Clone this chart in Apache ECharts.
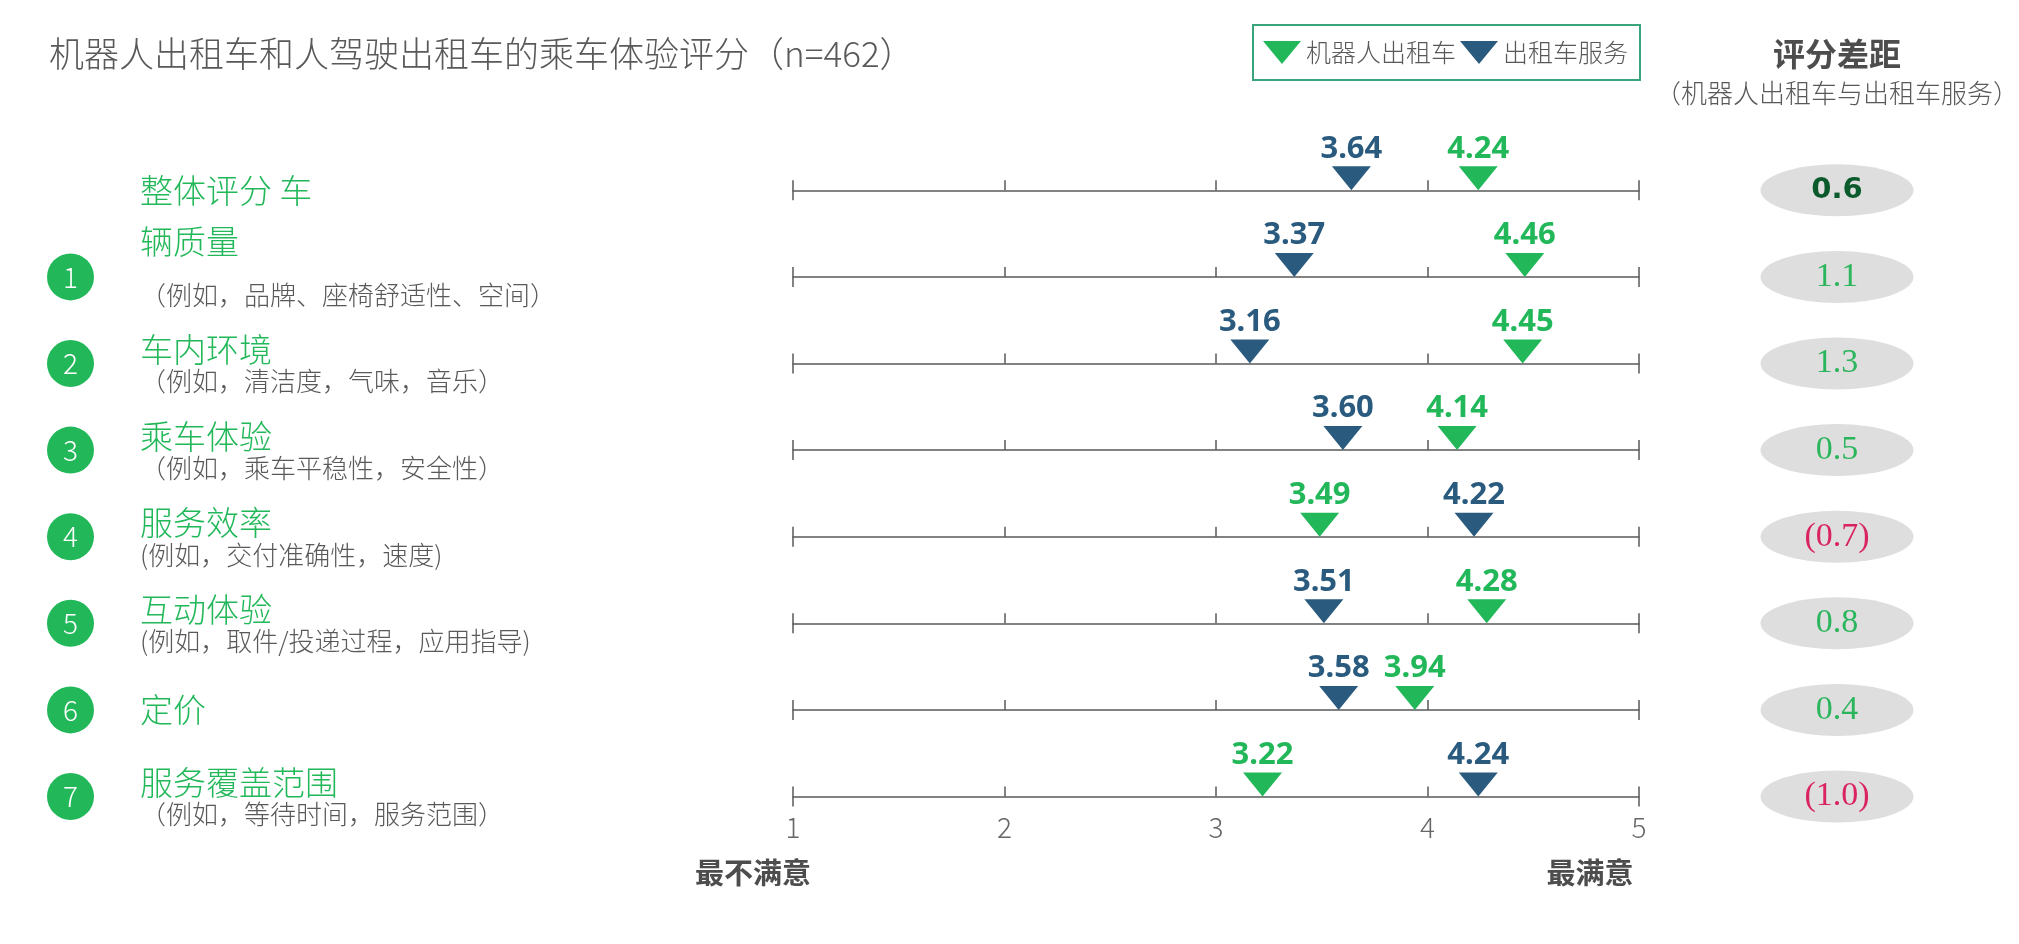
<!DOCTYPE html>
<html>
<head>
<meta charset="utf-8">
<title>机器人出租车和人驾驶出租车的乘车体验评分</title>
<script src="https://cdn.jsdelivr.net/npm/echarts@6/dist/echarts.min.js"></script>
<style>
  html, body { margin: 0; padding: 0; background: #fff; }
  #chart { width: 2019px; height: 944px; }
</style>
</head>
<body>
<div id="chart"></div>
<script>
// 行标题 (保留原图的换行方式)
const rowTitles = ['整体评分 车', '辆质量', '车内环境', '乘车体验', '服务效率', '互动体验', '定价', '服务覆盖范围']
const rowNotes = ['', '（例如，品牌、座椅舒适性、空间）', '（例如，清洁度，气味，音乐）', '（例如，乘车平稳性，安全性）',
  '(例如，交付准确性，速度)', '(例如，取件/投递过程，应用指导)', '', '（例如，等待时间，服务范围）']
const rowNumbers = ['', '1', '2', '3', '4', '5', '6', '7']
const robotaxiScores = [4.24, 4.46, 4.45, 4.14, 3.49, 4.28, 3.94, 3.22]
const taxiScores = [3.64, 3.37, 3.16, 3.60, 4.22, 3.51, 3.58, 4.24]
const scoreGaps = [0.6, 1.1, 1.3, 0.5, -0.7, 0.8, 0.4, -1.0]
const axisTicks = [1, 2, 3, 4, 5]

const GREEN = '#22b85a'
const BLUE = '#2a5b7e'
const GRAY = '#595959'
const CJK = '"Noto Sans CJK SC", "Noto Sans", sans-serif'
const TRIANGLE = 'path://M0,0L40,0L20,24Z'

const ROW_TOP = 190.3
const ROW_STEP = 86.6
const AXIS_LEFT = 793
const AXIS_RIGHT = 2019 - 1639

const chart = echarts.init(document.getElementById('chart'))

const grids = []
const xAxes = []
const yAxes = []
const series = []

function marker(name, color, value, i) {
  return {
    name,
    type: 'scatter',
    xAxisIndex: i * 2,
    yAxisIndex: i,
    data: [[value, 0]],
    symbol: TRIANGLE,
    symbolSize: [39, 24],
    symbolOffset: [0, -12],
    clip: false,
    z: 3,
    itemStyle: { color, opacity: 1 },
    label: {
      show: true,
      position: 'top',
      distance: 2,
      formatter: p => p.value[0].toFixed(2),
      color,
      fontSize: 31,
      fontWeight: 'bold',
      fontFamily: '"Noto Sans", sans-serif'
    }
  }
}

rowTitles.forEach((title, i) => {
  const lineY = ROW_TOP + ROW_STEP * i
  const last = i === rowTitles.length - 1
  grids.push({ left: AXIS_LEFT, right: AXIS_RIGHT, top: lineY - 60, height: 60 })
  xAxes.push({
    gridIndex: i,
    type: 'value',
    position: 'bottom',
    min: axisTicks[0],
    max: axisTicks[axisTicks.length - 1],
    interval: 1,
    axisLine: { lineStyle: { color: GRAY, width: 1.5 } },
    axisTick: { inside: true, length: 10, lineStyle: { color: GRAY, width: 1.5 } },
    axisLabel: { show: last, margin: 17, color: '#666', fontSize: 28, fontWeight: 300, fontFamily: CJK },
    splitLine: { show: false }
  })
  // 两端刻度向下延伸
  xAxes.push({
    gridIndex: i,
    type: 'value',
    position: 'bottom',
    min: axisTicks[0],
    max: axisTicks[axisTicks.length - 1],
    interval: 4,
    axisLine: { show: false },
    axisTick: { inside: false, length: 10, lineStyle: { color: GRAY, width: 1.5 } },
    axisLabel: { show: false },
    splitLine: { show: false }
  })
  yAxes.push({ gridIndex: i, type: 'value', min: 0, max: 1, show: false })
  series.push(marker('出租车服务', BLUE, taxiScores[i], i))
  series.push(marker('机器人出租车', GREEN, robotaxiScores[i], i))
})

// 左侧序号列 & 右侧评分差距列
const colTop = ROW_TOP - ROW_STEP / 2
const colHeight = ROW_STEP * rowTitles.length
grids.push({ left: 47, width: 47, top: colTop, height: colHeight })
grids.push({ left: 1760, width: 154, top: colTop, height: colHeight })
const rowIdx = rowTitles.map((_, i) => i)
;[8, 9].forEach(g => {
  xAxes.push({ gridIndex: g, type: 'category', data: ['c'], show: false })
  yAxes.push({ gridIndex: g, type: 'category', data: rowIdx, inverse: true, show: false })
})

series.push({
  type: 'scatter',
  xAxisIndex: 16,
  yAxisIndex: 8,
  symbol: 'circle',
  symbolSize: 47,
  itemStyle: { color: GREEN, opacity: 1 },
  data: rowNumbers.map((n, i) => n ? [0, i] : null).filter(d => d),
  label: {
    show: true,
    position: 'inside',
    formatter: p => rowNumbers[p.value[1]],
    color: '#fff',
    fontSize: 28,
    fontWeight: 300,
    fontFamily: CJK
  }
})

series.push({
  type: 'scatter',
  xAxisIndex: 17,
  yAxisIndex: 9,
  symbol: 'circle',
  symbolSize: [153, 52],
  itemStyle: { color: '#dedede', opacity: 1 },
  data: scoreGaps.map((v, i) => {
    const first = i === 0
    return {
      value: [0, i],
      label: first
        ? { color: '#0b5a2c', fontWeight: 'bold', fontFamily: '"DejaVu Sans", sans-serif', fontSize: 29 }
        : { color: v < 0 ? '#d9245f' : '#2bb55c', fontFamily: '"Liberation Serif", serif', fontSize: 34 }
    }
  }),
  label: {
    show: true,
    position: 'inside',
    formatter: p => {
      const v = scoreGaps[p.value[1]]
      return v < 0 ? '(' + Math.abs(v).toFixed(1) + ')' : v.toFixed(1)
    }
  }
})

// 文本
const graphic = [
  { type: 'text', x: 49, y: 54, style: { text: '机器人出租车和人驾驶出租车的乘车体验评分（n=462）', fill: GRAY, fontSize: 35, fontWeight: 300, fontFamily: CJK, verticalAlign: 'middle' } },
  { type: 'text', x: 1837, y: 54, style: { text: '评分差距', fill: '#4d4d4d', fontSize: 32, fontWeight: 'bold', fontFamily: CJK, align: 'center', verticalAlign: 'middle' } },
  { type: 'text', x: 1837, y: 93, style: { text: '（机器人出租车与出租车服务）', fill: GRAY, fontSize: 26, fontWeight: 300, fontFamily: CJK, align: 'center', verticalAlign: 'middle' } },
  { type: 'text', x: 753, y: 873, style: { text: '最不满意', fill: '#4d4d4d', fontSize: 29, fontWeight: 'bold', fontFamily: CJK, align: 'center', verticalAlign: 'middle' } },
  { type: 'text', x: 1590, y: 873, style: { text: '最满意', fill: '#4d4d4d', fontSize: 29, fontWeight: 'bold', fontFamily: CJK, align: 'center', verticalAlign: 'middle' } }
]

rowTitles.forEach((title, i) => {
  const lineY = ROW_TOP + ROW_STEP * i
  const dy = !rowNotes[i] ? 0 : (i === 1 ? -35 : -14)
  graphic.push({ type: 'text', x: 140, y: lineY + dy, style: { text: title, fill: GREEN, fontSize: 33, fontWeight: 300, fontFamily: CJK, verticalAlign: 'middle' } })
  if (rowNotes[i]) {
    graphic.push({ type: 'text', x: 140, y: lineY + 18, style: { text: rowNotes[i], fill: GRAY, fontSize: 26, fontWeight: 300, fontFamily: CJK, verticalAlign: 'middle' } })
  }
})

chart.setOption({
  animation: false,
  legend: {
    left: 1253,
    top: 25,
    padding: [15, 12, 15, 10],
    borderColor: '#3aa57a',
    borderWidth: 2,
    itemWidth: 38,
    itemHeight: 23,
    itemGap: 4,
    selectedMode: false,
    data: [
      { name: '机器人出租车', icon: TRIANGLE },
      { name: '出租车服务', icon: TRIANGLE }
    ],
    textStyle: { fontSize: 25, color: GRAY, fontWeight: 300, fontFamily: CJK }
  },
  grid: grids,
  xAxis: xAxes,
  yAxis: yAxes,
  graphic,
  series
})
</script>
</body>
</html>
